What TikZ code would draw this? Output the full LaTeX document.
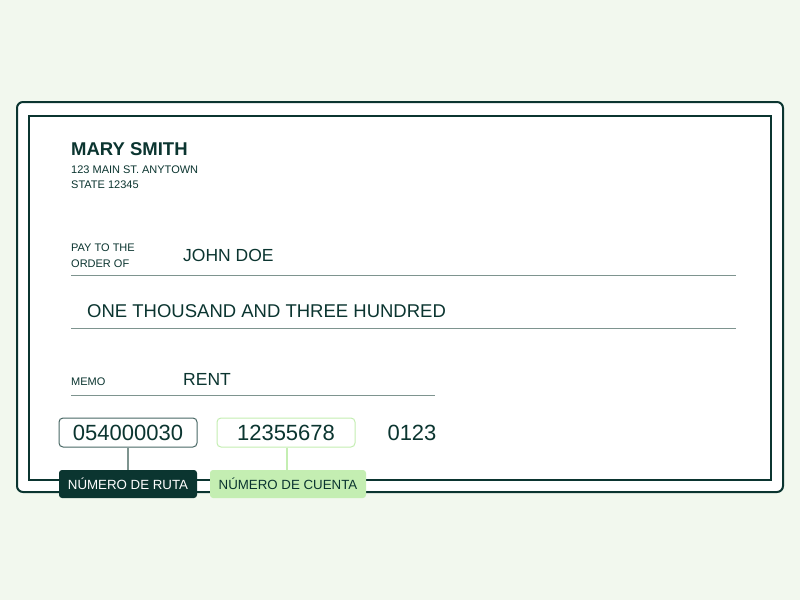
\documentclass[tikz,border=0pt]{standalone}
\usepackage{fontspec}
\setmainfont{Liberation Sans}
\usetikzlibrary{positioning}
\definecolor{inkgreen}{HTML}{0B3530}
\definecolor{rulegray}{HTML}{7E948F}
\definecolor{paleback}{HTML}{F2F8EE}
\definecolor{mintgreen}{HTML}{C4EEB2}
\tikzset{
  small/.style={font=\fontsize{11}{13}\selectfont,inkgreen,anchor=base west,inner sep=0},
  big/.style={font=\fontsize{17.5}{20}\selectfont,inkgreen,anchor=base west,inner sep=0},
  numbox/.style={draw,rounded corners=4pt,line width=1pt,minimum width=138pt,minimum height=29pt,font=\fontsize{22}{24}\selectfont,text=inkgreen,inner sep=0},
  tag/.style={rounded corners=3pt,minimum width=138pt,minimum height=28pt,font=\fontsize{13.3}{15}\selectfont,inner sep=0}
}
\begin{document}
\begin{tikzpicture}[x=1pt,y=-1pt]
    \fill[paleback] (0,0) rectangle (800,600);
    \useasboundingbox (0,0) rectangle (800,600);

    \draw[inkgreen,line width=2pt,fill=white,rounded corners=6pt] (17,102) rectangle (783,492);
    \draw[inkgreen,line width=2pt] (29,116) rectangle (771,480);

    \node[big,font=\bfseries\fontsize{18.5}{21}\selectfont] (name) at (71,155) {MARY SMITH};
    \node[small] (street) at (71,173) {123 MAIN ST. ANYTOWN};
    \node[small] (state) at (71,188) {STATE 12345};

    \node[small] (pay) at (71,251) {PAY TO THE};
    \node[small] (order) at (71,267) {ORDER OF};
    \node[big] (payee) at (183,261) {JOHN DOE};
    \draw[rulegray] (71,275) -- (736,275);

    \node[big,font=\fontsize{18.5}{21}\selectfont] (amount) at (87,317) {ONE THOUSAND AND THREE HUNDRED};
    \draw[rulegray] (71,328) -- (736,328);

    \node[small] (memo) at (71,385) {MEMO};
    \node[big] (rent) at (183,385) {RENT};
    \draw[rulegray] (71,395) -- (435,395);

    \node[numbox,draw=inkgreen!75] (routing) at (128,432.5) {054000030};
    \node[numbox,draw=mintgreen] (account) at (286,432.5) {12355678};
    \node[font=\fontsize{22}{24}\selectfont,text=inkgreen,inner sep=0] (checkno) at (412,432.5) {0123};

    \node[tag,fill=inkgreen,text=white] (routelbl) at (128,484) {NÚMERO DE RUTA};
    \node[tag,fill=mintgreen,text=inkgreen,minimum width=156pt] (acctlbl) at (288,484) {NÚMERO DE CUENTA};

    \draw[rulegray,line width=1.5pt] (routing.south) -- (routelbl.north);
    \draw[mintgreen,line width=1.5pt] (account.south -| 287,0) -- (acctlbl.north -| 287,0);
\end{tikzpicture}
\end{document}
